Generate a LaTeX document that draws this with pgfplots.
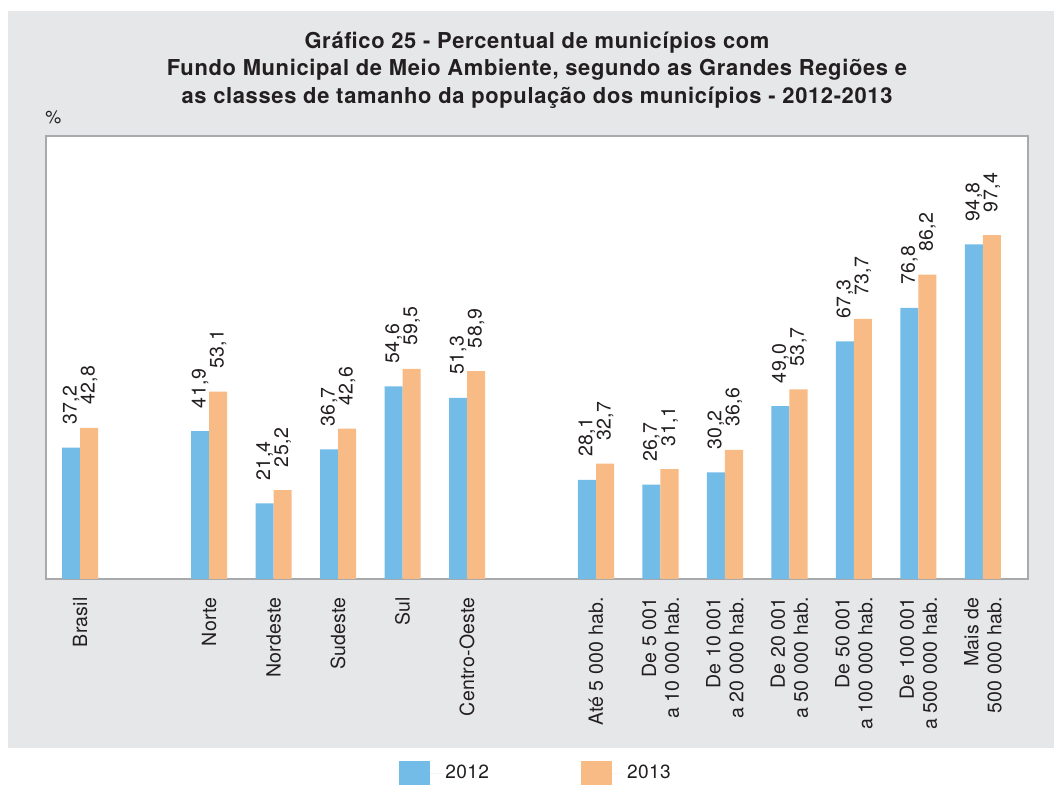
\documentclass[border=0pt]{standalone}
\usepackage{fontspec}
\setmainfont{TeX Gyre Heros}
\usepackage{pgfplots}
\usepackage{pgfplotstable}
\pgfplotsset{compat=1.18}
\definecolor{bgray}{HTML}{E6E7E8}
\definecolor{framec}{HTML}{A7A9AC}
\definecolor{cblue}{HTML}{74BCE8}
\definecolor{corange}{HTML}{F9BB85}
\definecolor{txt}{HTML}{231F20}
\pgfplotstableread{
x a b
0 37.2 42.8
2 41.9 53.1
3 21.4 25.2
4 36.7 42.6
5 54.6 59.5
6 51.3 58.9
8 28.1 32.7
9 26.7 31.1
10 30.2 36.6
11 49.0 53.7
12 67.3 73.7
13 76.8 86.2
14 94.8 97.4
}\data
\begin{document}
\begin{tikzpicture}[x=0.5bp,y=0.5bp]
\useasboundingbox (0,0) rectangle (1054,785);
\fill[bgray] (8,37) rectangle (1054,774);
\node[font=\bfseries\fontsize{11}{13.8}\selectfont\addfontfeature{LetterSpace=3}, text=txt, align=center] at (537,715)
 {Gráfico 25 - Percentual de municípios com\\
  Fundo Municipal de Meio Ambiente, segundo as Grandes Regiões e\\
  as classes de tamanho da população dos municípios - 2012-2013};
\node[font=\fontsize{9}{11}\selectfont, text=txt, anchor=west, inner sep=0pt] at (45,668) {\%};
\begin{axis}[
  at={(23bp,103bp)}, anchor=south west,
  scale only axis, width=491bp, height=221.5bp,
  xmin=-0.53, xmax=14.70, ymin=0, ymax=125.5,
  ybar=0pt, bar width=0.28,
  axis background/.style={fill=white},
  axis line style={framec, line width=0.8bp},
  ytick=\empty,
  xtick={0,2,3,4,5,6,8,9,10,11,12,13,14},
  xticklabels={Brasil,Norte,Nordeste,Sudeste,Sul,Centro-Oeste,Até 5 000 hab.,
    {De 5 001\\a 10 000 hab.},{De 10 001\\a 20 000 hab.},{De 20 001\\a 50 000 hab.},
    {De 50 001\\a 100 000 hab.},{De 100 001\\a 500 000 hab.},{Mais de\\500 000 hab.}},
  major tick length=0pt,
  xticklabel style={rotate=90, anchor=east, align=right, inner sep=0pt,
    font=\fontsize{9.8}{11.5}\selectfont\addfontfeature{LetterSpace=1}, text=txt},
  xticklabel shift=9bp,
  /pgf/number format/.cd, fixed, fixed zerofill, precision=1, use comma, assume math mode=true,
  /pgfplots/.cd,
  nodes near coords,
  every node near coord/.append style={rotate=90, anchor=west, inner sep=0pt,
     outer xsep=11.5bp, font=\fontsize{9.8}{11}\selectfont\addfontfeature{LetterSpace=2}, text=txt},
  legend style={at={(0.5,-0.438)}, anchor=center, draw=none, fill=none,
     font=\fontsize{9.6}{11}\selectfont\addfontfeature{LetterSpace=2}, text=txt,
     /tikz/every even column/.append style={column sep=44bp}},
  legend columns=2,
  legend image code/.code={\fill[#1, draw=none] (0bp,-6bp) rectangle (15.5bp,6bp); \path (0bp,0bp) -- (21bp,0bp);},
]
\addplot[fill=cblue, draw=none] table[x=x, y=a] {\data};
\addplot[fill=corange, draw=none] table[x=x, y=b] {\data};
\addlegendentry{2012}
\addlegendentry{2013}
\end{axis}
\end{tikzpicture}
\end{document}
